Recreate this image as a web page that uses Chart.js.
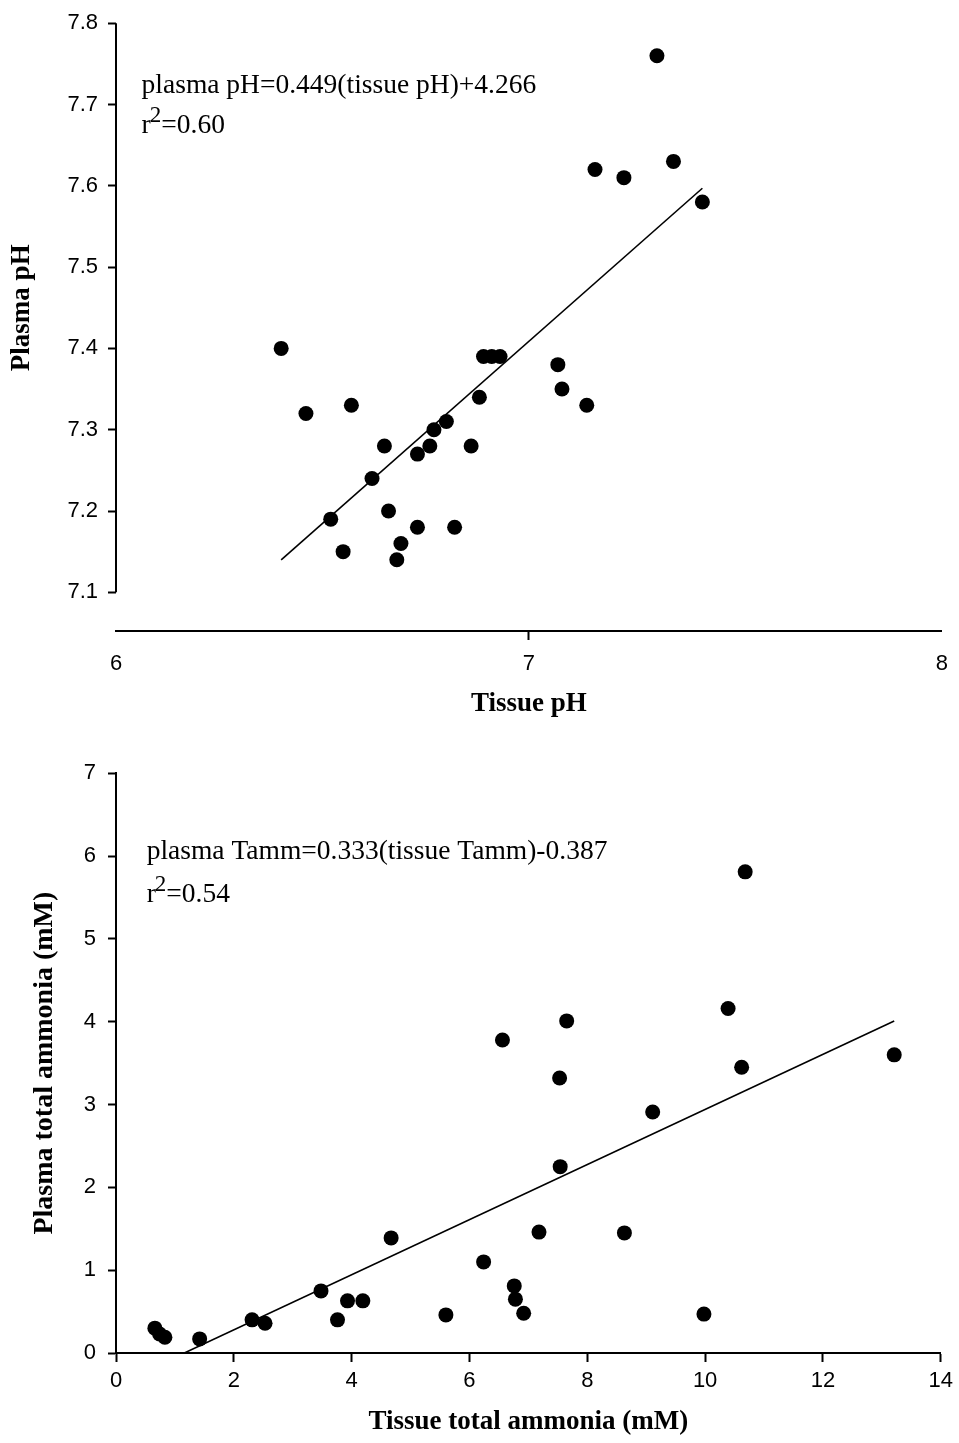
<!DOCTYPE html>
<html>
<head>
<meta charset="utf-8">
<script src="https://cdn.jsdelivr.net/npm/chart.js@4.4.1/dist/chart.umd.min.js"></script>
<style>
  html, body { margin: 0; padding: 0; background: #fff; }
  #wrap { position: relative; width: 959px; height: 1443px; }
  canvas { position: absolute; left: 0; }
  #phChart { top: 0; }
  #ammChart { top: 720px; }
</style>
</head>
<body>
<div id="wrap">
  <canvas id="phChart" width="959" height="720"></canvas>
  <canvas id="ammChart" width="959" height="723"></canvas>
</div>
<script>
// top panel: pH
const phTissue = [6.40, 6.46, 6.57, 6.52, 6.55, 6.62, 6.65, 6.66, 6.68, 6.69,
  6.73, 6.73, 6.76, 6.77, 6.80, 6.82, 6.86, 6.88, 6.89, 6.91,
  6.93, 7.07, 7.08, 7.14, 7.16, 7.23, 7.31, 7.35, 7.42];
const phPlasma = [7.40, 7.32, 7.33, 7.19, 7.15, 7.24, 7.28, 7.20, 7.14, 7.16,
  7.27, 7.18, 7.28, 7.30, 7.31, 7.18, 7.28, 7.34, 7.39, 7.39,
  7.39, 7.38, 7.35, 7.33, 7.62, 7.61, 7.76, 7.63, 7.58];
const phFitX = [6.40, 7.42];
const phFitY = [7.14, 7.597];
const phXTicks = [6, 7, 8];
const phYTicks = [7.1, 7.2, 7.3, 7.4, 7.5, 7.6, 7.7, 7.8];

// bottom panel: total ammonia
const ammTissue = [0.66, 0.74, 0.83, 1.42, 2.31, 2.53, 3.48, 3.76, 3.93, 4.19,
  4.67, 5.60, 6.24, 6.56, 6.76, 6.78, 6.92, 7.18, 7.53, 7.54,
  7.65, 8.63, 9.11, 9.98, 10.39, 10.62, 10.68, 13.21];
const ammPlasma = [0.30, 0.23, 0.19, 0.17, 0.40, 0.36, 0.75, 0.40, 0.63, 0.63,
  1.39, 0.46, 1.10, 3.78, 0.81, 0.65, 0.48, 1.46, 3.32, 2.25,
  4.01, 1.45, 2.91, 0.47, 4.16, 3.45, 5.81, 3.60];
const ammFitX = [1.16, 13.21];
const ammFitY = [0, 4.01];
const ammXTicks = [0, 2, 4, 6, 8, 10, 12, 14];
const ammYTicks = [0, 1, 2, 3, 4, 5, 6, 7];

const serif = "'Liberation Serif', 'Times New Roman', serif";
const sans = "'Liberation Sans', Arial, sans-serif";

const toPoints = (xs, ys) => xs.map((x, i) => ({ x, y: ys[i] }));

// equation text, r^2 line, optional y title and short y axis line
const decor = {
  id: "decor",
  afterDraw(chart, args, opts) {
    const { ctx, chartArea } = chart;
    const x = chart.scales.x;
    const y = chart.scales.y;
    ctx.save();
    ctx.fillStyle = "#000";
    ctx.strokeStyle = "#000";

    if (opts.axisFrom !== undefined) {
      ctx.lineWidth = 2;
      ctx.beginPath();
      ctx.moveTo(chartArea.left, y.getPixelForValue(opts.axisFrom));
      ctx.lineTo(chartArea.left, y.getPixelForValue(opts.axisTo));
      ctx.stroke();
    }

    if (opts.yTitle) {
      const midY = (y.getPixelForValue(opts.axisFrom) + y.getPixelForValue(opts.axisTo)) / 2;
      ctx.save();
      ctx.translate(opts.yTitleX, midY);
      ctx.rotate(-Math.PI / 2);
      ctx.font = "bold 27px " + serif;
      ctx.textAlign = "center";
      ctx.textBaseline = "middle";
      ctx.fillText(opts.yTitle, 0, 0);
      ctx.restore();
    }

    const px = x.getPixelForValue(opts.eqX);
    ctx.textBaseline = "alphabetic";
    ctx.textAlign = "left";
    ctx.font = "27.5px " + serif;
    ctx.fillText(opts.equation, px, y.getPixelForValue(opts.eqY));

    const by = y.getPixelForValue(opts.r2Y);
    ctx.fillText("r", px, by);
    let cx = px + ctx.measureText("r").width - 1;
    ctx.font = "23px " + serif;
    ctx.fillText("2", cx, by - 11);
    cx += ctx.measureText("2").width;
    ctx.font = "27.5px " + serif;
    ctx.fillText("=" + opts.r2, cx, by);
    ctx.restore();
  },
};

function scatterSet(xs, ys) {
  return {
    data: toPoints(xs, ys),
    backgroundColor: "#000",
    borderWidth: 0,
    pointRadius: 7.5,
    pointHoverRadius: 7.5,
  };
}

function fitSet(xs, ys) {
  return {
    type: "line",
    data: toPoints(xs, ys),
    borderColor: "#000",
    borderWidth: 1.6,
    pointRadius: 0,
    fill: false,
  };
}

new Chart(document.getElementById("phChart"), {
  type: "scatter",
  data: { datasets: [scatterSet(phTissue, phPlasma), fitSet(phFitX, phFitY)] },
  options: {
    responsive: false,
    animation: false,
    devicePixelRatio: 1,
    layout: { padding: { top: 15.7, right: 17, left: 0, bottom: 0 } },
    plugins: {
      legend: { display: false },
      tooltip: { enabled: false },
      decor: {
        axisFrom: 7.8,
        axisTo: 7.1,
        yTitle: "Plasma pH",
        yTitleX: 22,
        equation: "plasma pH=0.449(tissue pH)+4.266",
        eqX: 6.062,
        eqY: 7.7146,
        r2Y: 7.6648,
        r2: "0.60",
      },
    },
    scales: {
      x: {
        type: "linear",
        min: 6,
        max: 8,
        afterBuildTicks: (s) => { s.ticks = phXTicks.map((v) => ({ value: v })); },
        afterFit: (s) => { s.height = 89; },
        grid: {
          drawOnChartArea: false,
          tickLength: 9,
          tickWidth: 2,
          tickColor: (c) => (c.tick && c.tick.value === 7 ? "#000" : "rgba(0,0,0,0)"),
        },
        border: { color: "#000", width: 2 },
        ticks: { color: "#000", font: { family: sans, size: 22 }, padding: 11, maxRotation: 0 },
        title: {
          display: true,
          text: "Tissue pH",
          color: "#000",
          font: { family: serif, size: 27, weight: "bold" },
          padding: { top: 0, bottom: 0 },
        },
      },
      y: {
        type: "linear",
        min: 7.0524,
        max: 7.8,
        afterBuildTicks: (s) => { s.ticks = phYTicks.map((v) => ({ value: v })); },
        afterFit: (s) => { s.width = 116; },
        grid: { drawOnChartArea: false, tickLength: 8, tickWidth: 2, tickColor: "#000" },
        border: { display: false },
        ticks: {
          color: "#000",
          font: { family: sans, size: 22 },
          padding: 10,
          callback: (v) => Number(v).toFixed(1),
        },
      },
    },
  },
  plugins: [decor],
});

new Chart(document.getElementById("ammChart"), {
  type: "scatter",
  data: { datasets: [scatterSet(ammTissue, ammPlasma), fitSet(ammFitX, ammFitY)] },
  options: {
    responsive: false,
    animation: false,
    devicePixelRatio: 1,
    layout: { padding: { top: 53.3, right: 16, left: 0, bottom: 0 } },
    plugins: {
      legend: { display: false },
      tooltip: { enabled: false },
      decor: {
        equation: "plasma Tamm=0.333(tissue Tamm)-0.387",
        eqX: 0.52,
        eqY: 5.96,
        r2Y: 5.45,
        r2: "0.54",
      },
    },
    scales: {
      x: {
        type: "linear",
        min: 0,
        max: 14,
        afterBuildTicks: (s) => { s.ticks = ammXTicks.map((v) => ({ value: v })); },
        afterFit: (s) => { s.height = 90; },
        grid: { drawOnChartArea: false, tickLength: 9, tickWidth: 2, tickColor: "#000" },
        border: { color: "#000", width: 2 },
        ticks: { color: "#000", font: { family: sans, size: 22 }, padding: 6, maxRotation: 0 },
        title: {
          display: true,
          text: "Tissue total ammonia (mM)",
          color: "#000",
          font: { family: serif, size: 27, weight: "bold" },
          padding: { top: 0, bottom: 5 },
        },
      },
      y: {
        type: "linear",
        min: 0,
        max: 7,
        afterBuildTicks: (s) => { s.ticks = ammYTicks.map((v) => ({ value: v })); },
        afterFit: (s) => { s.width = 116; },
        grid: { drawOnChartArea: false, tickLength: 8, tickWidth: 2, tickColor: "#000" },
        border: { color: "#000", width: 2 },
        ticks: { color: "#000", font: { family: sans, size: 22 }, padding: 12 },
        title: {
          display: true,
          text: "Plasma total ammonia (mM)",
          color: "#000",
          font: { family: serif, size: 28, weight: "bold" },
          padding: { top: 28, bottom: 0 },
        },
      },
    },
  },
  plugins: [decor],
});
</script>
</body>
</html>
